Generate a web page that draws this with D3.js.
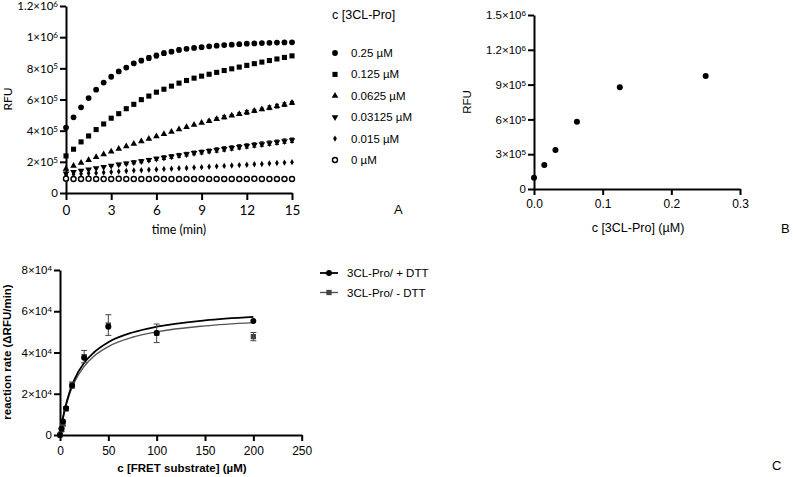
<!DOCTYPE html>
<html><head><meta charset="utf-8">
<script src="https://cdn.jsdelivr.net/npm/d3@7"></script>
<style>body{margin:0;background:#fff}svg{display:block}</style>
</head><body>
<svg id="chart" width="793" height="477"></svg>
<script>
// ---------- Panel A data ----------
const timeMin = [0,0.5,1,1.5,2,2.5,3,3.5,4,4.5,5,5.5,6,6.5,7,7.5,8,8.5,9,9.5,10,10.5,11,11.5,12,12.5,13,13.5,14,14.5,15];
const seriesNames = ["0.25 µM","0.125 µM","0.0625 µM","0.03125 µM","0.015 µM","0 µM"];
const rfu025 = [4.20,4.86,5.50,6.09,6.63,7.09,7.46,7.80,8.05,8.32,8.50,8.67,8.82,8.97,9.07,9.18,9.25,9.31,9.36,9.41,9.45,9.49,9.52,9.55,9.58,9.60,9.62,9.64,9.65,9.66,9.67];
const rfu0125 = [2.38,2.81,3.28,3.66,4.07,4.43,4.80,5.09,5.41,5.69,5.99,6.22,6.47,6.66,6.86,7.05,7.22,7.37,7.50,7.62,7.74,7.86,7.97,8.08,8.19,8.30,8.40,8.50,8.60,8.70,8.80];
const rfu00625 = [1.55,1.75,1.93,2.11,2.30,2.48,2.66,2.83,3.00,3.16,3.32,3.48,3.63,3.78,3.93,4.08,4.23,4.37,4.50,4.62,4.74,4.86,4.97,5.07,5.17,5.27,5.37,5.47,5.57,5.67,5.78];
const rfu003125 = [1.25,1.36,1.44,1.52,1.60,1.68,1.76,1.83,1.90,1.97,2.04,2.12,2.20,2.27,2.34,2.42,2.49,2.57,2.63,2.70,2.76,2.83,2.89,2.96,3.02,3.08,3.14,3.20,3.26,3.33,3.39];
const rfu0015 = [1.15,1.20,1.23,1.26,1.29,1.32,1.35,1.38,1.41,1.44,1.46,1.49,1.51,1.54,1.56,1.59,1.61,1.64,1.66,1.69,1.71,1.74,1.76,1.79,1.81,1.84,1.86,1.89,1.92,1.95,1.98];
const rfu0 = [0.92,0.90,0.90,0.91,0.90,0.90,0.90,0.91,0.90,0.90,0.90,0.90,0.91,0.90,0.90,0.90,0.90,0.90,0.91,0.90,0.90,0.90,0.90,0.90,0.90,0.91,0.90,0.90,0.90,0.90,0.90];
// error (×1e5)
const err025 = [0,0,0,0,0,0,0,0.08,0.1,0.12,0.14,0.15,0.15,0.14,0.12,0.12,0.1,0.1,0.08,0.08,0.06,0.05,0.05,0.04,0.04,0,0,0,0,0,0];
const err0125 = [0,0,0,0,0,0,0,0,0,0,0,0,0,0,0,0,0,0,0,0,0,0,0,0,0,0,0,0,0,0,0];
const err00625 = [0,0,0,0,0,0,0,0,0,0,0,0,0,0,0,0,0,0,0,0.06,0.08,0.1,0.06,0.08,0.12,0.1,0.08,0.12,0.12,0.12,0.1];
const err003125 = [0,0,0,0,0,0,0.06,0.08,0.08,0.1,0.1,0.1,0.1,0.12,0.12,0.12,0.12,0.12,0.12,0.12,0.14,0.14,0.14,0.14,0.14,0.14,0.14,0.14,0.14,0.14,0.14];
const err0015 = [0,0,0,0,0,0,0,0,0,0,0,0,0,0,0,0,0,0,0,0,0,0,0,0,0,0,0,0,0,0,0];
const err0 = [0,0,0,0,0,0,0,0,0,0,0,0,0,0,0,0,0,0,0,0,0,0,0,0,0,0,0,0,0,0,0];
const aXTicks = [0,3,6,9,12,15];
const aYTicks = [0,200000,400000,600000,800000,1000000,1200000];
const aYTickLabels = [["0",""],["2×10","5"],["4×10","5"],["6×10","5"],["8×10","5"],["1×10","6"],["1.2×10","6"]];

// ---------- Panel B data ----------
const bConc = [0,0.015,0.03125,0.0625,0.125,0.25];
const bRFU = [97000,207000,336000,580000,877000,974000];
const bXTicks = [0,0.1,0.2,0.3];
const bXTickLabels = ["0.0","0.1","0.2","0.3"];
const bYTicks = [0,300000,600000,900000,1200000,1500000];
const bYTickLabels = [["0",""],["3×10","5"],["6×10","5"],["9×10","5"],["1.2×10","6"],["1.5×10","6"]];

// ---------- Panel C data ----------
const cSubstrate = [0,1.5625,3.125,6.25,12.5,25,50,100,200];
const cRatePlus = [0,3000,6500,13000,24000,37500,52500,49500,55300];
const cErrPlus = [0,0,0,0,0,0,0,0,0];
const cRateMinus = [0,2500,5500,12700,24200,38000,53300,49300,47700];
const cErrMinus = [0,800,1200,1000,1500,3000,5000,4500,2000];
const cFitX = [0,2,5,10,15,25,35,50,75,100,150,200];
const cFitPlus = [0,5700,12600,21000,27000,35000,40000,45000,49700,52500,55600,57300];
const cFitMinus = [0,5500,12000,20000,25700,33300,38200,42900,47400,50000,52900,54500];
const cXTicks = [0,50,100,150,200,250];
const cYTicks = [0,20000,40000,60000,80000];
const cYTickLabels = [["0",""],["2×10","4"],["4×10","4"],["6×10","4"],["8×10","4"]];
const cLegend = ["3CL-Pro/ + DTT","3CL-Pro/ - DTT"];

// ---------- drawing ----------
const svg = d3.select("#chart");
const fontA = "Lato, 'Open Sans', sans-serif";
const fontB = "'Liberation Sans', Arial, sans-serif";

function styleAxis(g, font, size) {
  g.select(".domain").attr("stroke", "#000").attr("stroke-width", 2);
  g.selectAll(".tick line").attr("stroke", "#000").attr("stroke-width", 2);
  g.selectAll(".tick text").attr("font-family", font).attr("font-size", size).attr("fill", "#000");
}
function sciLabels(g, labels) {
  g.selectAll(".tick text").each(function(d, i) {
    const t = d3.select(this);
    t.text(null);
    const L = labels[i];
    t.append("tspan").text(L[0]);
    if (L[1]) t.append("tspan").attr("dy", "-0.38em").attr("font-size", "0.7em").text(L[1]);
  });
}

// ===== Panel A =====
const axA = d3.scaleLinear().domain([0, 15]).range([66, 292]);
const ayA = d3.scaleLinear().domain([0, 1200000]).range([193, 6]);
const gAx = svg.append("g").attr("transform", "translate(0,193)")
  .call(d3.axisBottom(axA).tickValues(aXTicks).tickSize(7).tickSizeOuter(0).tickPadding(5));
styleAxis(gAx, fontA, 13.5);
const gAy = svg.append("g").attr("transform", "translate(66,0)")
  .call(d3.axisLeft(ayA).tickValues(aYTicks).tickSize(6).tickSizeOuter(0).tickPadding(2));
styleAxis(gAy, fontA, 11.5);
sciLabels(gAy, aYTickLabels);
svg.append("text").attr("x", 179).attr("y", 234).attr("text-anchor", "middle")
  .attr("font-family", fontA).attr("font-size", 12.5).text("time (min)");
svg.append("text").attr("transform", "translate(12,99) rotate(-90)").attr("text-anchor", "middle")
  .attr("font-family", fontA).attr("font-size", 12).text("RFU");
svg.append("text").attr("x", 394).attr("y", 214).attr("font-family", fontB).attr("font-size", 13).text("A");

const seriesA = [
  {v: rfu025, e: err025, sym: d3.symbolCircle, size: 26, fill: "#000"},
  {v: rfu0125, e: err0125, sym: d3.symbolSquare, size: 26, fill: "#000"},
  {v: rfu00625, e: err00625, sym: d3.symbolTriangle, size: 19, fill: "#000"},
  {v: rfu003125, e: err003125, sym: d3.symbolTriangle, size: 19, fill: "#000", rot: 180},
  {v: rfu0015, e: err0015, sym: d3.symbolDiamond, size: 12, fill: "#000"},
  {v: rfu0, e: err0, sym: d3.symbolCircle, size: 20, fill: "none", open: true}
];
seriesA.forEach(s => {
  const g = svg.append("g");
  timeMin.forEach((t, i) => {
    const x = axA(t), v = s.v[i] * 1e5, e = s.e[i] * 1e5;
    if (e > 0) {
      g.append("line").attr("x1", x).attr("x2", x).attr("y1", ayA(v - e)).attr("y2", ayA(v + e)).attr("stroke", "#000").attr("stroke-width", 1);
      [v - e, v + e].forEach(c => g.append("line").attr("x1", x - 2).attr("x2", x + 2).attr("y1", ayA(c)).attr("y2", ayA(c)).attr("stroke", "#000").attr("stroke-width", 1));
    }
  });
  g.selectAll("path.m").data(timeMin).join("path")
    .attr("d", d3.symbol().type(s.sym).size(s.size))
    .attr("transform", (t, i) => `translate(${axA(t)},${ayA(s.v[i] * 1e5)})` + (s.rot ? ` rotate(${s.rot})` : ""))
    .attr("fill", s.open ? "#fff" : s.fill)
    .attr("stroke", "#000").attr("stroke-width", s.open ? 1.4 : 0);
});
// legend A
svg.append("text").attr("x", 332).attr("y", 19).attr("font-family", fontB).attr("font-size", 12.5).text("c [3CL-Pro]");
seriesNames.forEach((n, i) => {
  const y = 53 + i * 21.4;
  const s = seriesA[i];
  svg.append("path").attr("d", d3.symbol().type(s.sym).size(s.size)())
    .attr("transform", `translate(335,${y})` + (s.rot ? " rotate(180)" : ""))
    .attr("fill", s.open ? "#fff" : "#000").attr("stroke", "#000").attr("stroke-width", s.open ? 1.4 : 0);
  svg.append("text").attr("x", 351).attr("y", y + 4).attr("font-family", fontB).attr("font-size", 11.5).text(n);
});

// ===== Panel B =====
const axB = d3.scaleLinear().domain([0, 0.3]).range([534, 740]);
const ayB = d3.scaleLinear().domain([0, 1500000]).range([189, 15]);
const gBx = svg.append("g").attr("transform", "translate(0,189)")
  .call(d3.axisBottom(axB).tickValues(bXTicks).tickFormat((d, i) => bXTickLabels[i]).tickSize(6).tickSizeOuter(0).tickPadding(4));
styleAxis(gBx, fontB, 12);
const gBy = svg.append("g").attr("transform", "translate(534,0)")
  .call(d3.axisLeft(ayB).tickValues(bYTicks).tickSize(6).tickSizeOuter(0).tickPadding(2));
styleAxis(gBy, fontB, 11.5);
sciLabels(gBy, bYTickLabels);
svg.append("text").attr("x", 638).attr("y", 232).attr("text-anchor", "middle")
  .attr("font-family", fontB).attr("font-size", 12.5).text("c [3CL-Pro] (µM)");
svg.append("text").attr("transform", "translate(471,102) rotate(-90)").attr("text-anchor", "middle")
  .attr("font-family", fontB).attr("font-size", 11.5).text("RFU");
svg.append("text").attr("x", 781).attr("y", 233).attr("font-family", fontB).attr("font-size", 13).text("B");
svg.append("g").selectAll("circle").data(bConc).join("circle")
  .attr("cx", d => axB(d)).attr("cy", (d, i) => ayB(bRFU[i])).attr("r", 3).attr("fill", "#000");

// ===== Panel C =====
const axC = d3.scaleLinear().domain([0, 250]).range([60, 301.7]);
const ayC = d3.scaleLinear().domain([0, 80000]).range([435, 270]);
const gCx = svg.append("g").attr("transform", "translate(0,435)")
  .call(d3.axisBottom(axC).tickValues(cXTicks).tickSize(6).tickSizeOuter(0).tickPadding(5));
styleAxis(gCx, fontB, 12);
const gCy = svg.append("g").attr("transform", "translate(60,0)")
  .call(d3.axisLeft(ayC).tickValues(cYTicks).tickSize(6).tickSizeOuter(0).tickPadding(2));
styleAxis(gCy, fontB, 11.5);
sciLabels(gCy, cYTickLabels);
svg.append("text").attr("x", 182).attr("y", 472).attr("text-anchor", "middle")
  .attr("font-family", fontB).attr("font-size", 11.5).attr("font-weight", "bold").text("c [FRET substrate] (µM)");
svg.append("text").attr("transform", "translate(11,352) rotate(-90)").attr("text-anchor", "middle")
  .attr("font-family", fontB).attr("font-size", 11.5).attr("font-weight", "bold").text("reaction rate (ΔRFU/min)");
svg.append("text").attr("x", 772).attr("y", 470).attr("font-family", fontB).attr("font-size", 13).text("C");

const lineC = d3.line().x((d, i) => axC(cFitX[i])).y(d => ayC(d)).curve(d3.curveMonotoneX);
svg.append("path").attr("d", lineC(cFitMinus)).attr("fill", "none").attr("stroke", "#555").attr("stroke-width", 1.4);
svg.append("path").attr("d", lineC(cFitPlus)).attr("fill", "none").attr("stroke", "#000").attr("stroke-width", 1.8);

function errBars(vals, errs, color) {
  const g = svg.append("g");
  cSubstrate.forEach((x, i) => {
    const e = errs[i]; if (!e) return;
    const px = axC(x);
    g.append("line").attr("x1", px).attr("x2", px).attr("y1", ayC(vals[i] - e)).attr("y2", ayC(vals[i] + e)).attr("stroke", color).attr("stroke-width", 1);
    [vals[i] - e, vals[i] + e].forEach(c => g.append("line").attr("x1", px - 3).attr("x2", px + 3).attr("y1", ayC(c)).attr("y2", ayC(c)).attr("stroke", color).attr("stroke-width", 1));
  });
}
errBars(cRateMinus, cErrMinus, "#444");
errBars(cRatePlus, cErrPlus, "#000");
svg.append("g").selectAll("path").data(cSubstrate).join("path")
  .attr("d", d3.symbol().type(d3.symbolSquare).size(28))
  .attr("transform", (d, i) => `translate(${axC(d)},${ayC(cRateMinus[i])})`).attr("fill", "#444");
svg.append("g").selectAll("circle").data(cSubstrate).join("circle")
  .attr("cx", d => axC(d)).attr("cy", (d, i) => ayC(cRatePlus[i])).attr("r", 3).attr("fill", "#000");

// legend C
cLegend.forEach((n, i) => {
  const y = 273 + i * 19.5;
  const col = i === 0 ? "#000" : "#555";
  svg.append("line").attr("x1", 320).attr("x2", 338).attr("y1", y).attr("y2", y).attr("stroke", col).attr("stroke-width", i === 0 ? 1.8 : 1.4);
  if (i === 0) svg.append("circle").attr("cx", 329).attr("cy", y).attr("r", 3).attr("fill", "#000");
  else svg.append("path").attr("d", d3.symbol().type(d3.symbolSquare).size(28)()).attr("transform", `translate(329,${y})`).attr("fill", "#444");
  svg.append("text").attr("x", 347).attr("y", y + 4).attr("font-family", fontB).attr("font-size", 11.5).text(n);
});
</script>
</body></html>
